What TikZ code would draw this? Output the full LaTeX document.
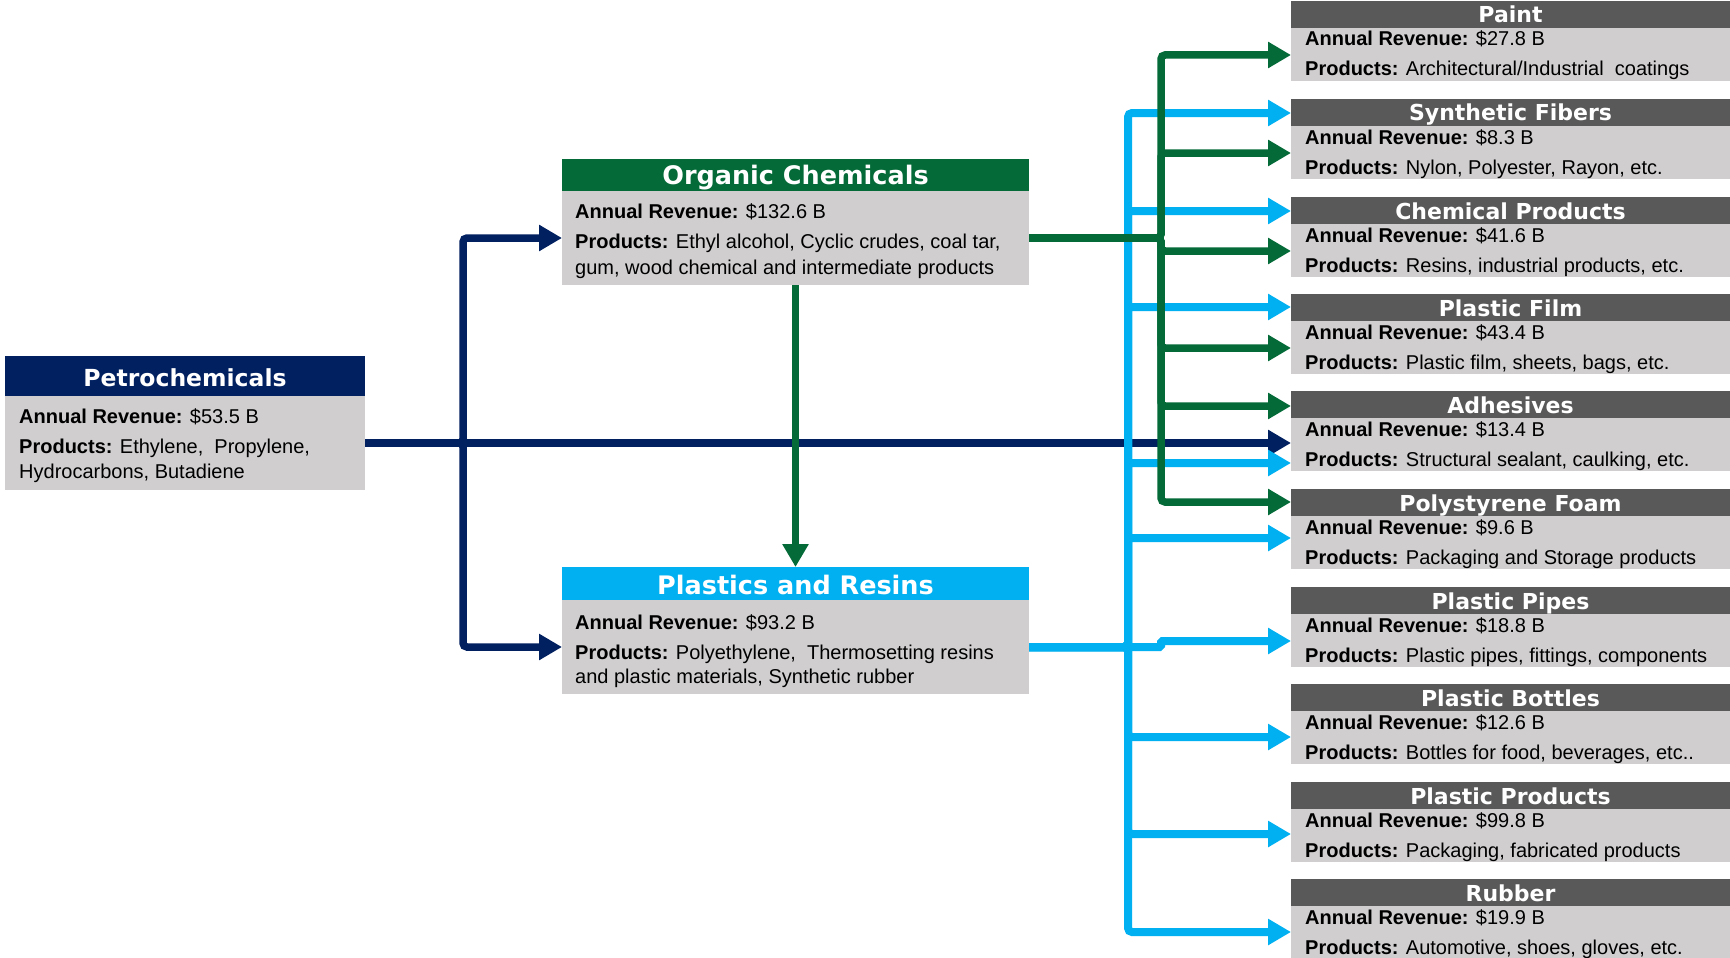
\documentclass[tikz,border=0pt]{standalone}
\usepackage{fontspec}
\setmainfont{Liberation Sans}
\newfontfamily\titlefont{DejaVu Sans}
\usetikzlibrary{arrows.meta}
\definecolor{navyc}{HTML}{002060}
\definecolor{greenc}{HTML}{046A38}
\definecolor{cyanc}{HTML}{00B0F0}
\definecolor{hdrgray}{HTML}{595959}
\definecolor{bodygray}{HTML}{D0CECE}
\tikzset{
  hdrbox/.style={rectangle, inner sep=0pt, outer sep=0pt, anchor=north west},
  bodybox/.style={rectangle, fill=bodygray, inner sep=0pt, outer sep=0pt, anchor=north west},
  ttl/.style={text=white, inner sep=0pt, anchor=base, font=\titlefont\bfseries\fontsize{22}{26}\selectfont},
  bigttl/.style={ttl, font=\titlefont\bfseries\fontsize{25.5}{30}\selectfont},
  petttl/.style={ttl, font=\titlefont\bfseries\fontsize{23.5}{28}\selectfont},
  txt/.style={inner sep=0pt, anchor=base west, font=\fontsize{20}{25}\selectfont},
  conn/.style={line width=7.5pt, rounded corners=4pt, -{Triangle[length=23pt,width=25pt]}},
  navyconn/.style={conn, draw=navyc},
  greenconn/.style={conn, draw=greenc},
  cyanconn/.style={conn, draw=cyanc, line width=8pt},
}
\newcommand\rightbox[5]{%
  \node[hdrbox, fill=hdrgray, minimum width=439pt, minimum height=27pt] (#1-h) at (1291,#2) {};
  \node[bodybox, minimum width=439pt, minimum height=53pt] (#1) at (1291,{#2+27}) {};
  \node[ttl] (#1-t) at (1510.5,{#2+22}) {#3};
  \node[txt] (#1-r) at (1305,{#2+45}) {\textbf{Annual Revenue:} #4};
  \node[txt] (#1-p) at (1305,{#2+75}) {\textbf{Products:} #5};
}
\begin{document}
\begin{tikzpicture}[x=1pt,y=-1pt]
\useasboundingbox[fill=white] (0,0) rectangle (1730,958);

% Petrochemicals
\node[hdrbox, fill=navyc, minimum width=360pt, minimum height=40pt] (petro-h) at (5,356) {};
\node[bodybox, minimum width=360pt, minimum height=94pt] (petro) at (5,396) {};
\node[petttl] (petro-t) at (185,386) {Petrochemicals};
\node[txt] (petro-r) at (19,423) {\textbf{Annual Revenue:} \$53.5 B};
\node[txt] (petro-p) at (19,453) {\textbf{Products:} Ethylene,\ \ Propylene,};
\node[txt] (petro-p2) at (19,478) {Hydrocarbons, Butadiene};

% Organic Chemicals
\node[hdrbox, fill=greenc, minimum width=467pt, minimum height=32pt] (oc-h) at (562,159) {};
\node[bodybox, minimum width=467pt, minimum height=94pt] (oc) at (562,191) {};
\node[bigttl] (oc-t) at (795.5,184) {Organic Chemicals};
\node[txt] (oc-r) at (575,218) {\textbf{Annual Revenue:} \$132.6 B};
\node[txt] (oc-p) at (575,248) {\textbf{Products:} Ethyl alcohol, Cyclic crudes, coal tar,};
\node[txt] (oc-p2) at (575,274) {gum, wood chemical and intermediate products};

% Plastics and Resins
\node[hdrbox, fill=cyanc, minimum width=467pt, minimum height=33pt] (pr-h) at (562,567) {};
\node[bodybox, minimum width=467pt, minimum height=94pt] (pr) at (562,600) {};
\node[bigttl] (pr-t) at (795.5,594) {Plastics and Resins};
\node[txt] (pr-r) at (575,629) {\textbf{Annual Revenue:} \$93.2 B};
\node[txt] (pr-p) at (575,659) {\textbf{Products:} Polyethylene,\ \ Thermosetting resins};
\node[txt] (pr-p2) at (575,683) {and plastic materials, Synthetic rubber};

% Right column
\rightbox{paint}{1}{Paint}{\$27.8 B}{Architectural/Industrial\ \ coatings}
\rightbox{sf}{99}{Synthetic Fibers}{\$8.3 B}{Nylon, Polyester, Rayon, etc.}
\rightbox{cp}{197}{Chemical Products}{\$41.6 B}{Resins, industrial products, etc.}
\rightbox{pf}{294}{Plastic Film}{\$43.4 B}{Plastic film, sheets, bags, etc.}
\rightbox{adh}{391}{Adhesives}{\$13.4 B}{Structural sealant, caulking, etc.}
\rightbox{psf}{489}{Polystyrene Foam}{\$9.6 B}{Packaging and Storage products}
\rightbox{pp}{587}{Plastic Pipes}{\$18.8 B}{Plastic pipes, fittings, components}
\rightbox{pb}{684}{Plastic Bottles}{\$12.6 B}{Bottles for food, beverages, etc..}
\rightbox{pprod}{782}{Plastic Products}{\$99.8 B}{Packaging, fabricated products}
\rightbox{rub}{879}{Rubber}{\$19.9 B}{Automotive, shoes, gloves, etc.}

% bus x positions and arrow targets
\coordinate (nx) at (463,0);
\coordinate (cx) at (1128,0);
\coordinate (gx) at (1161,0);
\coordinate (paint-g) at (1291,55);
\coordinate (sf-c) at (1291,113);
\coordinate (sf-g) at (1291,153);
\coordinate (cp-c) at (1291,211);
\coordinate (cp-g) at (1291,251);
\coordinate (pf-c) at (1291,307);
\coordinate (pf-g) at (1291,348);
\coordinate (adh-g) at (1291,406);
\coordinate (adh-n) at (1291,443);
\coordinate (adh-c) at (1291,463);
\coordinate (psf-g) at (1291,502);
\coordinate (psf-c) at (1291,538);
\coordinate (pp-c) at (1291,641);
\coordinate (pb-c) at (1291,737);
\coordinate (pprod-c) at (1291,834);
\coordinate (rub-c) at (1291,932);

% navy connectors
\draw[navyconn] (petro.east) -- (adh-n);
\draw[navyconn] (petro.east) -- (petro.east -| nx) |- (oc.west);
\draw[navyconn] (petro.east) -- (petro.east -| nx) |- (pr.west);

% cyan connectors
\foreach \t in {sf-c, cp-c, pf-c, adh-c, psf-c, pb-c, pprod-c, rub-c}
  \draw[cyanconn] (pr.east) -- (pr.east -| cx) |- (\t);
\draw[cyanconn, rounded corners=1.5pt] (pr.east) -- (pr.east -| gx) |- (pp-c);

% green connectors
\draw[greenconn] (oc.south) -- (pr-h.north);
\foreach \t in {paint-g, sf-g, cp-g, pf-g, adh-g, psf-g}
  \draw[greenconn] (oc.east) -- (oc.east -| gx) |- (\t);
\end{tikzpicture}
\end{document}
